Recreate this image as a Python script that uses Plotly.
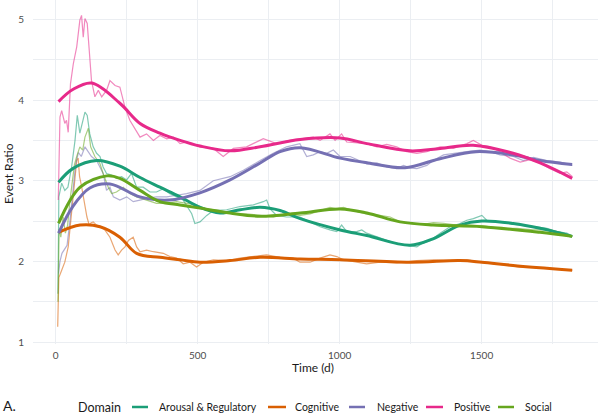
import plotly.graph_objects as go

# ---------------- data ----------------
domains = ["Arousal & Regulatory", "Cognitive", "Negative", "Positive", "Social"]
colors = ["#1B9E77", "#D95F02", "#7570B3", "#E7298A", "#66A61E"]

# raw (thin) series
arousal_raw_d = [8, 11, 21, 32, 43, 56, 68, 76, 85, 97, 103, 111, 120, 132, 144, 156, 167, 179, 197, 214, 232, 250, 267, 285, 308, 332, 355, 379, 402, 426, 449, 479, 490, 508, 532, 555, 602, 649, 696, 731, 743, 755, 778, 813, 860, 896, 931, 966, 990, 1007, 1025, 1060, 1078, 1095, 1131, 1166, 1201, 1236, 1272, 1289, 1319, 1354, 1389, 1424, 1448, 1471, 1501, 1518, 1553, 1589, 1636, 1683, 1730, 1765, 1800, 1820]
arousal_raw_v = [1.60, 2.80, 2.97, 2.88, 2.92, 3.17, 3.50, 3.81, 3.59, 3.75, 3.85, 3.81, 3.58, 3.42, 3.34, 3.30, 3.17, 3.09, 3.07, 3.03, 3.05, 3.01, 3.09, 2.92, 2.92, 2.86, 2.86, 2.90, 2.84, 2.80, 2.76, 2.59, 2.47, 2.49, 2.57, 2.63, 2.64, 2.68, 2.70, 2.74, 2.76, 2.65, 2.57, 2.55, 2.55, 2.49, 2.43, 2.39, 2.37, 2.45, 2.37, 2.37, 2.39, 2.35, 2.30, 2.26, 2.22, 2.20, 2.18, 2.22, 2.26, 2.35, 2.43, 2.47, 2.51, 2.53, 2.57, 2.51, 2.49, 2.47, 2.45, 2.43, 2.41, 2.37, 2.35, 2.31]

cognitive_raw_d = [7, 11, 21, 32, 44, 52, 61, 68, 74, 79, 84, 90, 97, 103, 110, 118, 125, 132, 144, 156, 173, 191, 209, 220, 232, 244, 256, 273, 285, 297, 320, 344, 379, 402, 426, 449, 473, 496, 520, 555, 602, 649, 696, 743, 790, 837, 860, 896, 931, 966, 990, 1013, 1060, 1095, 1142, 1201, 1272, 1330, 1389, 1448, 1501, 1542, 1589, 1636, 1683, 1741, 1788, 1820]
cognitive_raw_v = [1.19, 1.80, 1.89, 1.99, 2.18, 2.45, 2.80, 3.00, 3.25, 3.28, 3.05, 2.95, 2.80, 2.65, 2.55, 2.45, 2.48, 2.49, 2.45, 2.43, 2.39, 2.30, 2.14, 2.08, 2.14, 2.18, 2.26, 2.30, 2.18, 2.12, 2.14, 2.12, 2.10, 2.06, 2.04, 1.97, 1.99, 1.93, 1.99, 2.02, 2.01, 2.04, 2.06, 2.08, 2.05, 2.04, 1.99, 1.99, 2.04, 2.08, 2.06, 2.02, 1.99, 1.97, 1.99, 1.98, 2.01, 2.02, 2.01, 2.02, 1.99, 1.97, 1.95, 1.93, 1.93, 1.91, 1.90, 1.89]

negative_raw_d = [10, 15, 22, 30, 40, 50, 60, 70, 80, 90, 103, 115, 126, 144, 167, 179, 191, 203, 226, 250, 273, 297, 320, 355, 391, 426, 461, 508, 555, 614, 661, 720, 766, 813, 860, 884, 907, 931, 954, 978, 1001, 1037, 1072, 1095, 1131, 1166, 1201, 1225, 1248, 1272, 1307, 1330, 1366, 1401, 1448, 1495, 1530, 1565, 1612, 1647, 1683, 1730, 1777, 1800, 1820]
negative_raw_v = [1.85, 2.00, 2.10, 2.15, 2.20, 2.50, 2.90, 3.20, 3.35, 3.30, 3.42, 3.35, 3.30, 3.25, 3.09, 2.88, 2.92, 2.80, 2.76, 2.80, 2.74, 2.76, 2.78, 2.80, 2.80, 2.82, 2.84, 2.88, 3.00, 3.05, 3.13, 3.25, 3.34, 3.42, 3.46, 3.30, 3.32, 3.36, 3.34, 3.38, 3.30, 3.30, 3.25, 3.21, 3.22, 3.17, 3.15, 3.19, 3.16, 3.15, 3.19, 3.25, 3.32, 3.34, 3.36, 3.38, 3.36, 3.32, 3.30, 3.25, 3.29, 3.25, 3.23, 3.21, 3.19]

positive_raw_d = [9, 15, 21, 32, 38, 44, 52, 62, 74, 79, 85, 91, 97, 103, 111, 118, 126, 138, 150, 162, 179, 191, 209, 226, 244, 261, 279, 297, 320, 344, 367, 391, 414, 438, 461, 508, 555, 590, 626, 672, 731, 778, 825, 860, 907, 931, 966, 984, 1007, 1025, 1060, 1095, 1131, 1166, 1201, 1236, 1272, 1307, 1354, 1401, 1448, 1471, 1501, 1530, 1565, 1600, 1636, 1671, 1706, 1741, 1777, 1800, 1820]
positive_raw_v = [2.76, 3.79, 3.87, 3.71, 3.75, 3.60, 4.20, 4.45, 4.66, 4.82, 4.99, 5.05, 4.78, 5.01, 4.95, 4.62, 4.24, 4.04, 4.12, 4.04, 4.12, 4.24, 4.18, 4.16, 3.91, 3.75, 3.65, 3.54, 3.58, 3.50, 3.56, 3.52, 3.54, 3.46, 3.48, 3.42, 3.40, 3.30, 3.40, 3.42, 3.52, 3.46, 3.50, 3.52, 3.54, 3.50, 3.58, 3.50, 3.58, 3.48, 3.47, 3.46, 3.42, 3.45, 3.42, 3.36, 3.34, 3.36, 3.42, 3.40, 3.46, 3.50, 3.44, 3.42, 3.36, 3.28, 3.23, 3.26, 3.22, 3.15, 3.09, 3.11, 3.05]

social_raw_d = [8, 12, 18, 26, 34, 42, 50, 58, 66, 74, 85, 95, 103, 115, 123, 138, 156, 167, 185, 197, 214, 238, 261, 285, 320, 355, 391, 426, 461, 496, 532, 578, 625, 672, 719, 766, 813, 860, 896, 931, 966, 990, 1013, 1048, 1095, 1142, 1178, 1213, 1248, 1295, 1330, 1366, 1413, 1460, 1507, 1565, 1624, 1683, 1741, 1788, 1820]
social_raw_v = [1.50, 2.40, 2.30, 2.55, 2.35, 2.45, 2.75, 3.00, 3.20, 3.30, 3.42, 3.38, 3.54, 3.65, 3.42, 3.30, 3.21, 3.09, 2.92, 2.84, 2.86, 2.92, 2.84, 2.80, 2.76, 2.72, 2.72, 2.74, 2.72, 2.70, 2.65, 2.63, 2.59, 2.59, 2.57, 2.55, 2.59, 2.57, 2.59, 2.63, 2.67, 2.65, 2.67, 2.63, 2.59, 2.57, 2.55, 2.49, 2.47, 2.46, 2.48, 2.47, 2.45, 2.45, 2.44, 2.41, 2.41, 2.39, 2.39, 2.35, 2.31]

# smoothed (thick) series
arousal_fit_d = [10, 60, 145, 226, 297, 367, 438, 508, 579, 650, 720, 790, 861, 1002, 1096, 1248, 1329, 1424, 1501, 1611, 1706, 1819]
arousal_fit_v = [2.98, 3.15, 3.25, 3.18, 3.04, 2.92, 2.80, 2.67, 2.60, 2.64, 2.67, 2.63, 2.53, 2.39, 2.32, 2.20, 2.28, 2.45, 2.50, 2.47, 2.41, 2.31]

cognitive_fit_d = [10, 86, 156, 226, 285, 367, 438, 508, 614, 720, 861, 1002, 1248, 1424, 1501, 1611, 1819]
cognitive_fit_v = [2.36, 2.45, 2.43, 2.30, 2.10, 2.05, 2.02, 1.99, 2.01, 2.05, 2.03, 2.02, 1.99, 2.01, 1.99, 1.95, 1.89]

negative_fit_d = [10, 60, 120, 191, 297, 400, 508, 614, 720, 790, 861, 1002, 1100, 1230, 1350, 1480, 1611, 1706, 1819]
negative_fit_v = [2.35, 2.68, 2.91, 2.96, 2.80, 2.76, 2.85, 3.01, 3.22, 3.36, 3.41, 3.28, 3.22, 3.16, 3.27, 3.36, 3.32, 3.25, 3.20]

positive_fit_d = [10, 60, 127, 226, 297, 367, 438, 508, 614, 720, 861, 1002, 1096, 1248, 1354, 1470, 1611, 1706, 1819]
positive_fit_v = [3.98, 4.13, 4.21, 3.96, 3.71, 3.59, 3.50, 3.43, 3.37, 3.42, 3.51, 3.53, 3.46, 3.37, 3.40, 3.44, 3.34, 3.22, 3.03]

social_fit_d = [10, 86, 180, 226, 297, 367, 438, 508, 614, 720, 861, 1002, 1096, 1213, 1329, 1501, 1706, 1819]
social_fit_v = [2.47, 2.92, 3.06, 3.03, 2.88, 2.74, 2.70, 2.66, 2.60, 2.56, 2.60, 2.65, 2.60, 2.49, 2.45, 2.43, 2.36, 2.31]

x_ticks = [0, 500, 1000, 1500]
y_ticks = [1, 2, 3, 4, 5]

raw = [(arousal_raw_d, arousal_raw_v), (cognitive_raw_d, cognitive_raw_v),
       (negative_raw_d, negative_raw_v), (positive_raw_d, positive_raw_v),
       (social_raw_d, social_raw_v)]
fit = [(arousal_fit_d, arousal_fit_v), (cognitive_fit_d, cognitive_fit_v),
       (negative_fit_d, negative_fit_v), (positive_fit_d, positive_fit_v),
       (social_fit_d, social_fit_v)]

FONT = "Lato"
fig = go.Figure()

for (d, v), c, name in zip(raw, colors, domains):
    fig.add_trace(go.Scatter(x=d, y=v, mode="lines", line=dict(color=c, width=1.2),
                             opacity=0.55, showlegend=False, hoverinfo="skip", name=name))
for (d, v), c, name in zip(fit, colors, domains):
    fig.add_trace(go.Scatter(x=d, y=v, mode="lines", line=dict(color=c, width=3, shape="spline", smoothing=1.0),
                             showlegend=False, hoverinfo="skip", name=name))

W, H = 600, 416
L, R, T, B = 33, 2, 0, 72
pw, ph = W - L - R, H - T - B

def px(x):
    return (x - L) / pw

def py(y):
    return (H - B - y) / ph

grid_major = "#EBEEF2"
fig.update_layout(
    width=W, height=H,
    margin=dict(l=L, r=R, t=T, b=B),
    plot_bgcolor="white", paper_bgcolor="white",
    font=dict(family=FONT, color="#1a1a1a"),
    showlegend=False,
    xaxis=dict(range=[-80, 1910], tickvals=x_ticks, ticktext=[str(t) for t in x_ticks],
               showgrid=True, gridcolor=grid_major, gridwidth=1.2, zeroline=False, showline=False,
               tickfont=dict(size=10, color="#4d4d4d", family=FONT), ticks="", ticklabelstandoff=4,
               minor=dict(tickvals=[250, 750, 1250, 1750], showgrid=True, gridcolor=grid_major, gridwidth=0.6)),
    yaxis=dict(range=[0.976, 5.24], tickvals=y_ticks, ticktext=[str(t) for t in y_ticks],
               showgrid=True, gridcolor=grid_major, gridwidth=1.2, zeroline=False, showline=False,
               tickfont=dict(size=10, color="#4d4d4d", family=FONT), ticks="", ticklabelstandoff=8,
               minor=dict(tickvals=[1.5, 2.5, 3.5, 4.5], showgrid=True, gridcolor=grid_major, gridwidth=0.6)),
)

ann = []
ann.append(dict(text="Event Ratio", x=px(8), y=py(174), xref="paper", yref="paper", textangle=-90,
                showarrow=False, font=dict(size=12, family=FONT, color="#1a1a1a"), xanchor="center", yanchor="middle"))
ann.append(dict(text="Time (d)", x=px(313), y=py(368), xref="paper", yref="paper",
                showarrow=False, font=dict(size=12, family=FONT, color="#1a1a1a"), xanchor="center", yanchor="middle"))
ann.append(dict(text="A.", x=px(1), y=py(406), xref="paper", yref="paper",
                showarrow=False, font=dict(size=14, family=FONT, color="#1a1a1a"), xanchor="left", yanchor="middle"))
ann.append(dict(text="Domain", x=px(76), y=py(407), xref="paper", yref="paper",
                showarrow=False, font=dict(size=12.5, family=FONT, color="#1a1a1a"), xanchor="left", yanchor="middle"))

line_x = [(132, 148), (268, 286), (349, 365), (426, 443), (498, 514)]
text_x = [157, 293, 375, 452, 523]
shapes = []
for (x0, x1), tx, c, name in zip(line_x, text_x, colors, domains):
    shapes.append(dict(type="line", xref="paper", yref="paper", x0=px(x0), x1=px(x1), y0=py(407), y1=py(407),
                       line=dict(color=c, width=2.5)))
    ann.append(dict(text=name, x=px(tx), y=py(407), xref="paper", yref="paper",
                    showarrow=False, font=dict(size=10.5, family=FONT, color="#1a1a1a"), xanchor="left", yanchor="middle"))

fig.update_layout(annotations=ann, shapes=shapes)
fig.write_html("out.html", config={"displayModeBar": False},
               post_script="document.body.style.margin='0';document.body.style.overflow='hidden';")
